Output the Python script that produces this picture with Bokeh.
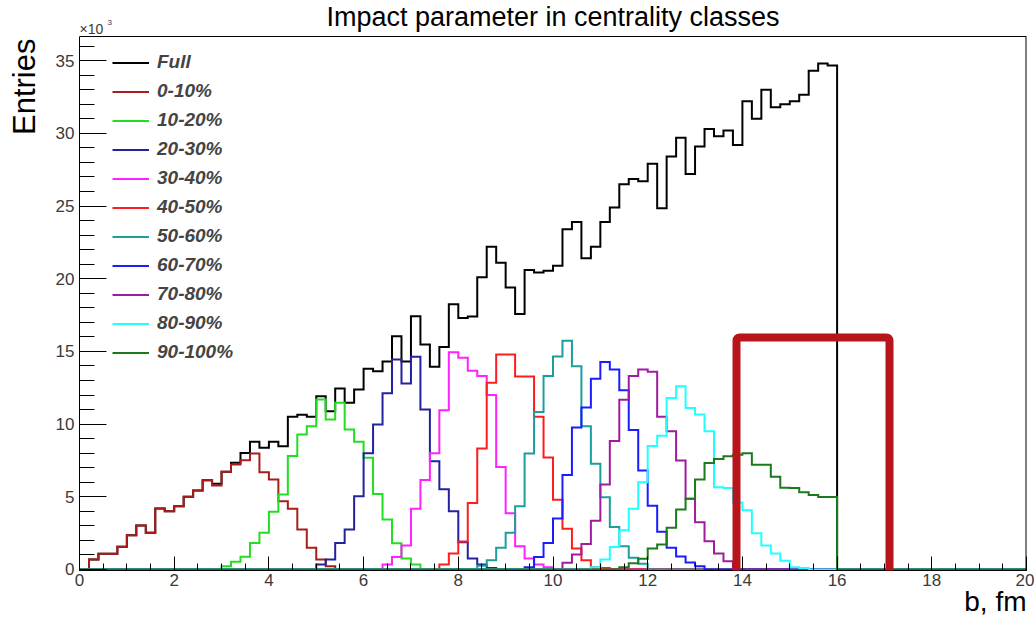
import math
import numpy as np
from bokeh.plotting import figure
from bokeh.models import (Range1d, SingleIntervalTicker, Label, BoxAnnotation,
                          Legend, LegendItem, Span)
from bokeh.embed import file_html
from bokeh.resources import INLINE

# Impact parameter histograms: 100 bins of 0.2 fm from 0 to 20 fm.
# Contents are in thousands of entries (axis marked x10^3).
BIN_WIDTH = 0.2
N_BINS = 100
B_MAX = 20.0

full_start = 0.0
full_k = [0, 0.69, 1.08, 1.08, 1.56, 2.36, 3.03, 2.52, 4.2, 4.0,
          4.35, 5.0, 5.43, 6.14, 5.9, 6.72, 7.34, 8.02, 8.78, 8.37,
          8.78, 8.48, 10.5, 10.64, 10.5, 11.92, 10.89, 12.45, 11.46, 12.38,
          13.8, 13.64, 14.3, 16.05, 14.3, 17.42, 15.47, 13.95, 15.3, 18.25,
          17.3, 17.4, 20.1, 22.2, 21.1, 19.4, 17.57, 20.6, 20.43, 20.55,
          20.9, 23.4, 23.9, 21.4, 22.2, 23.9, 24.9, 26.5, 26.85, 26.7,
          27.9, 24.85, 28.4, 29.7, 27.2, 29.1, 30.3, 29.8, 30.2, 29.2,
          32.2, 31.0, 33.0, 31.8, 32.0, 32.2, 32.65, 34.3, 34.8, 34.66]

c00_10_start = 0.2
c00_10_k = [0.69, 1.08, 1.08, 1.56, 2.36, 3.03, 2.52, 4.2, 4.0, 4.35,
            5.0, 5.43, 6.14, 5.78, 6.72, 7.22, 7.52, 7.98, 6.69, 6.19,
            4.7, 4.17, 2.75, 1.49, 0.69, 0.23]

c10_20_start = 3.0
c10_20_k = [0.23, 0.53, 0.87, 1.83, 2.52, 3.97, 5.16, 7.8, 9.28, 9.86,
            11.69, 10.32, 11.46, 9.63, 8.78, 7.68, 5.2, 3.44, 1.8, 0.75, 0.34]

c20_30_start = 5.0
c20_30_k = [0.34, 0.69, 1.83, 2.75, 5.04, 8.0, 9.97, 12.12, 14.44, 12.8,
            14.63, 11.0, 7.45, 5.52, 4.01, 1.88, 0.75, 0.34, 0.1]

c30_40_start = 6.4
c30_40_k = [0.34, 0.85, 1.65, 4.17, 6.16, 8.0, 10.95, 14.95, 14.56, 13.67,
            13.3, 12.0, 7.05, 3.87, 1.6, 0.75, 0.34, 0.15]

c40_50_start = 7.6
c40_50_k = [0.34, 1.1, 1.92, 4.58, 8.33, 12.84, 14.79, 14.79, 13.28, 13.28,
            10.5, 7.7, 4.79, 2.8, 1.45, 0.63, 0.15, 0.1]

c50_60_start = 8.4
c50_60_k = [0.25, 0.63, 1.49, 2.52, 4.35, 7.98, 10.83, 13.3, 14.65, 15.73,
            13.98, 9.86, 7.28, 4.96, 2.92, 1.6, 0.8, 0.4]

c60_70_start = 9.4
c60_70_k = [0.15, 0.85, 1.83, 3.5, 6.5, 9.77, 11.14, 13.12, 14.27, 13.76,
            12.32, 9.6, 6.8, 4.38, 2.6, 1.5, 0.9, 0.48, 0.23]

c70_80_start = 10.2
c70_80_k = [0.46, 1.03, 1.75, 3.35, 5.85, 8.83, 11.67, 13.3, 13.76, 13.6,
            10.5, 9.5, 7.5, 4.86, 3.25, 1.95, 1.1, 0.57]

c80_90_start = 10.8
c80_90_k = [0.15, 0.69, 1.55, 2.7, 4.17, 6.0, 8.5, 9.2, 11.8, 12.6,
            11.1, 10.66, 9.5, 5.65, 5.6, 4.6, 4.07, 2.5, 1.65, 1.1,
            0.6, 0.15, 0.1]

c90_100_start = 11.4
c90_100_k = [0.15, 0.43, 0.73, 1.45, 1.72, 2.87, 4.13, 4.86, 6.19, 7.32,
             7.6, 7.79, 7.9, 8.0, 7.2, 7.2, 6.37, 5.62, 5.6, 5.32,
             5.12, 4.98, 4.98]

labels = ["Full", "0-10%", "10-20%", "20-30%", "30-40%", "40-50%",
          "50-60%", "60-70%", "70-80%", "80-90%", "90-100%"]
series = [(full_start, full_k), (c00_10_start, c00_10_k),
          (c10_20_start, c10_20_k), (c20_30_start, c20_30_k),
          (c30_40_start, c30_40_k), (c40_50_start, c40_50_k),
          (c50_60_start, c50_60_k), (c60_70_start, c60_70_k),
          (c70_80_start, c70_80_k), (c80_90_start, c80_90_k),
          (c90_100_start, c90_100_k)]
colors = ["#000000", "#a81c1c", "#22dd22", "#22229e", "#ff22ff", "#ff1c1c",
          "#1c9e9e", "#1c1cff", "#9e1c9e", "#22ffff", "#1c7a1c"]

FONT = "Liberation Sans"
Y_LO, Y_TOP = -0.07, 36.66          # histogram frame in data units

# canvas geometry
W, H = 1034, 624
FL, FR, FT, FB = 79, 1026, 36, 570
px_per_k = (FB - FT) / (Y_TOP - Y_LO)
# the plotting area runs up to the canvas top so the title row is not clipped
y_canvas_top = Y_TOP + FT / px_per_k

p = figure(width=W, height=H, output_backend="svg", toolbar_location=None,
           x_range=Range1d(0, B_MAX), y_range=Range1d(Y_LO, y_canvas_top),
           min_border_left=FL, min_border_right=W - FR,
           min_border_top=0, min_border_bottom=H - FB)
p.background_fill_color = "white"
p.border_fill_color = "white"
p.outline_line_color = None
p.xgrid.visible = False
p.ygrid.visible = False


def hist_steps(start, counts):
    c = np.zeros(N_BINS)
    i0 = int(round(start / BIN_WIDTH))
    c[i0:i0 + len(counts)] = counts
    edges = np.arange(N_BINS + 1) * BIN_WIDTH
    return edges, np.append(c, c[-1])


renderers = []
for (start, counts), col in zip(series, colors):
    xs, ys = hist_steps(start, counts)
    r = p.step(xs, ys, mode="after", line_color=col, line_width=2,
               line_join="miter")
    renderers.append(r)

# top and right edges of the histogram frame
p.add_layout(Span(location=Y_TOP, dimension="width", line_color="black",
                  line_width=1))
p.segment(x0=[B_MAX], y0=[Y_LO], x1=[B_MAX], y1=[Y_TOP], line_color="black",
          line_width=2)

# axes, ROOT style: ticks drawn inward
TICK_COLOR = "#3a3a3a"
xa = p.xaxis[0]
xa.ticker = SingleIntervalTicker(interval=2, num_minor_ticks=4)
xa.major_tick_in = 14
xa.major_tick_out = 0
xa.minor_tick_in = 7
xa.minor_tick_out = 0
xa.major_label_standoff = 3
xa.major_label_text_font = FONT
xa.major_label_text_font_size = "17px"
xa.major_label_text_color = TICK_COLOR
xa.axis_line_color = "black"
xa.major_tick_line_color = "black"
xa.minor_tick_line_color = "black"

ya = p.yaxis[0]
ya.bounds = (Y_LO, Y_TOP)
ya.ticker = SingleIntervalTicker(interval=5, num_minor_ticks=5)
ya.major_tick_in = 27
ya.major_tick_out = 0
ya.minor_tick_in = 15
ya.minor_tick_out = 0
ya.major_label_standoff = 5
ya.major_label_text_font = FONT
ya.major_label_text_font_size = "17px"
ya.major_label_text_color = TICK_COLOR
ya.axis_line_color = "black"
ya.major_tick_line_color = "black"
ya.minor_tick_line_color = "black"


def add_text(text, x, y, size, side="center", align="left",
             baseline="alphabetic", angle=0.0, color="black"):
    p.add_layout(Label(x=x, y=y, x_units="canvas", y_units="canvas",
                       text=text, text_font=FONT, text_font_size=size,
                       text_align=align, text_baseline=baseline, angle=angle,
                       text_color=color), side)


# title row and the exponent of the count axis
add_text("Impact parameter in centrality classes", (FL + FR) / 2, 16, "27px",
         align="center", baseline="middle")
add_text("\u00d710", 79, 28, "14px", baseline="middle", color=TICK_COLOR)
add_text("3", 107, 22, "8px", baseline="middle", color=TICK_COLOR)
# axis titles in the border panels (anchored at their centre line there)
add_text("Entries", 24, 38, "31px", side="left", align="right",
         baseline="middle", angle=math.pi / 2)
add_text("b, fm", FR, 601, "28px", side="below", align="right",
         baseline="middle")

legend = Legend(
    items=[LegendItem(label=lab, renderers=[r]) for lab, r in zip(labels, renderers)],
    location=(33, FB - 47.5 - 11 * 29),
    orientation="vertical", padding=0, margin=0, spacing=0,
    glyph_width=37, glyph_height=29, label_height=29, label_standoff=8,
    label_text_font=FONT, label_text_font_size="19px",
    label_text_font_style="bold italic",
    border_line_alpha=0, background_fill_alpha=0)
p.add_layout(legend)

# highlight frame around 14-17 fm, reaching down past the axis labels
p.add_layout(BoxAnnotation(left=736, right=889, top=337, bottom=640,
                           left_units="canvas", right_units="canvas",
                           top_units="canvas", bottom_units="canvas",
                           fill_alpha=0, line_alpha=1.0,
                           line_color="#b8141c", line_width=8,
                           border_radius=3), "below")

open("out.html", "w").write(file_html(p, INLINE))
